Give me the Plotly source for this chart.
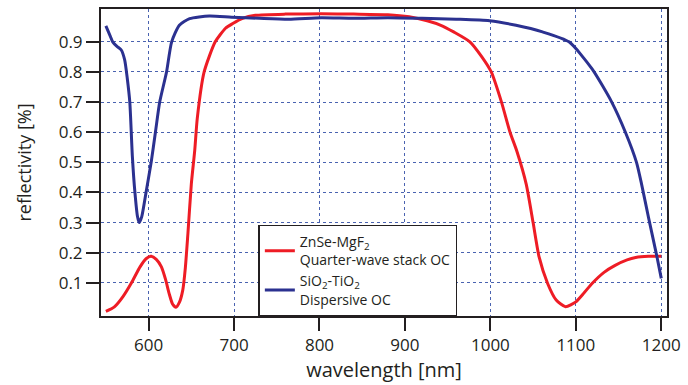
import plotly.graph_objects as go

# ZnSe-MgF2 quarter-wave stack OC (red)
red_wl = [550, 560, 570, 580, 590, 597, 603, 609, 615, 620, 624, 628, 632, 636, 640, 643, 646, 650,
          654, 657, 665, 678, 690, 698, 710, 725, 760, 802, 840, 880, 905, 926, 942, 957, 976, 990,
          1001, 1013, 1023, 1031, 1042, 1050, 1057, 1067, 1077, 1088, 1100, 1110, 1119, 1133, 1146,
          1160, 1170, 1185, 1200]
red_r = [0.005, 0.02, 0.054, 0.10, 0.153, 0.18, 0.188, 0.178, 0.153, 0.11, 0.065, 0.03, 0.019, 0.035,
         0.076, 0.15, 0.263, 0.428, 0.54, 0.647, 0.80, 0.90, 0.945, 0.96, 0.978, 0.988, 0.992, 0.993,
         0.992, 0.99, 0.983, 0.97, 0.955, 0.933, 0.90, 0.85, 0.80, 0.70, 0.60, 0.537, 0.427, 0.30,
         0.186, 0.098, 0.043, 0.021, 0.037, 0.068, 0.098, 0.135, 0.158, 0.176, 0.184, 0.188, 0.188]

# SiO2-TiO2 dispersive OC (blue)
blue_wl = [550, 555, 558, 563, 568, 572, 575, 578, 581, 584, 587, 589, 592, 597, 603, 608, 613, 621,
           627, 636, 648, 671, 697, 730, 764, 802, 840, 880, 920, 960, 999, 1030, 1061, 1092, 1119,
           1142, 1158, 1171, 1177, 1185, 1195, 1200]
blue_r = [0.953, 0.92, 0.90, 0.885, 0.873, 0.84, 0.78, 0.70, 0.52, 0.40, 0.32, 0.30, 0.32, 0.40, 0.50,
          0.60, 0.70, 0.80, 0.90, 0.955, 0.977, 0.986, 0.982, 0.978, 0.975, 0.98, 0.978, 0.98, 0.978,
          0.975, 0.97, 0.955, 0.933, 0.90, 0.81, 0.70, 0.60, 0.50, 0.427, 0.318, 0.186, 0.115]

x_ticks = [600, 700, 800, 900, 1000, 1100, 1200]
y_ticks = [0.1, 0.2, 0.3, 0.4, 0.5, 0.6, 0.7, 0.8, 0.9]

FONT = "Open Sans"
DARK = "#231F20"
GRID = "#4A63B0"

fig = go.Figure()
fig.add_trace(go.Scatter(x=red_wl, y=red_r, mode="lines",
                         line=dict(color="#EE1C25", width=3, shape="spline", smoothing=0.6),
                         name="ZnSe-MgF<sub>2</sub><br>Quarter-wave stack OC"))
fig.add_trace(go.Scatter(x=blue_wl, y=blue_r, mode="lines",
                         line=dict(color="#2B3190", width=3, shape="spline", smoothing=0.6),
                         name="SiO<sub>2</sub>-TiO<sub>2</sub><br>Dispersive OC"))

axis_common = dict(showline=True, mirror=True, linecolor=DARK, linewidth=2,
                   ticks="outside", ticklen=13, tickwidth=2, tickcolor=DARK,
                   showgrid=True, gridcolor=GRID, gridwidth=1, griddash="dot",
                   zeroline=False, tickfont=dict(family=FONT, size=17, color=DARK))

fig.update_xaxes(range=[544.3, 1206.7], tickvals=x_ticks, ticktext=[str(v) for v in x_ticks],
                 title=dict(text="wavelength [nm]", font=dict(family=FONT, size=20, color=DARK), standoff=2),
                 **axis_common)
fig.update_yaxes(range=[-0.01, 1.009], tickvals=y_ticks, ticktext=[f"{v:.1f}" for v in y_ticks],
                 title=dict(text="reflectivity [%]", font=dict(family=FONT, size=18, color=DARK), standoff=22),
                 **axis_common)

fig.update_layout(
    width=688, height=385,
    margin=dict(l=101, r=16, t=7, b=69),
    paper_bgcolor="white", plot_bgcolor="white",
    font=dict(family=FONT, color=DARK),
    legend=dict(x=0.278, y=0.298, xanchor="left", yanchor="top",
                bgcolor="white", bordercolor=DARK, borderwidth=1.5,
                font=dict(family=FONT, size=14, color=DARK),
                itemwidth=30, tracegroupgap=0, traceorder="normal"),
)

fig.write_html("out.html")
